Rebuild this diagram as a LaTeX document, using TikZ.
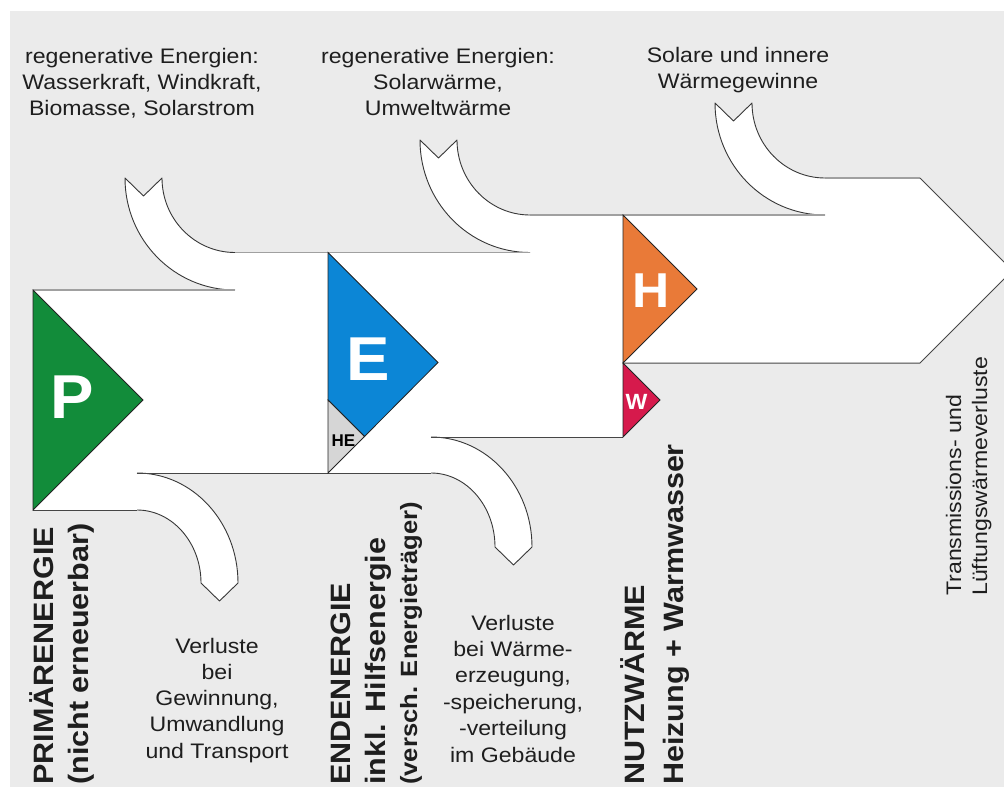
\documentclass[tikz,border=0pt]{standalone}
\usepackage{fontspec}
\setmainfont{Liberation Sans}
\definecolor{bg}{RGB}{235,235,235}
\definecolor{pgreen}{RGB}{18,140,58}
\definecolor{eblue}{RGB}{12,134,214}
\definecolor{hegray}{RGB}{214,214,214}
\definecolor{horange}{RGB}{233,122,56}
\definecolor{wred}{RGB}{214,26,76}
\definecolor{txt}{RGB}{30,30,30}
\definecolor{edgelight}{RGB}{160,160,160}
\definecolor{edgedark}{RGB}{70,70,70}
\definecolor{arrowedge}{RGB}{55,55,55}
\definecolor{triedge}{RGB}{35,35,35}
\begin{document}
\begin{tikzpicture}[x=1pt, y=-1pt,
  flowfill/.style={fill=white},
  arrowline/.style={draw=arrowedge, line width=0.9pt, line join=round},
  topedge/.style={draw=edgelight, line width=1.5pt},
  botedge/.style={draw=edgedark, line width=1pt},
  tri/.style={draw=triedge, line width=0.8pt, line join=miter},
  plain/.style={font=\fontsize{21}{26}\selectfont, text=txt, inner sep=0pt, xscale=1.1},
  hline/.style={plain, anchor=base},
  vplain/.style={rotate=90, plain, anchor=base west},
  vbold/.style={rotate=90, font=\fontsize{28}{30}\selectfont\bfseries, text=txt,
                inner sep=0pt, xscale=1.09, anchor=base west},
  letter/.style={font=\fontsize{#1}{#1}\selectfont\bfseries, text=white,
                 inner sep=0pt, xscale=1.05}
]
\useasboundingbox (0,0) rectangle (1004,787);
\clip (0,0) rectangle (1004,787);

% page and grey panel
\fill[white] (0,0) rectangle (1004,787);
\fill[bg] (10,11) rectangle (1004,787);

% main energy band
\path[flowfill] (33,290) -- (235,290) -- (235,252.5) -- (530,252.5) -- (530,215)
  -- (825,215) -- (825,178) -- (920,178) -- (1012.5,270.5) -- (920,363)
  -- (623,363) -- (623,437) -- (431,437) -- (431,473) -- (137,473)
  -- (137,510) -- (33,510) -- cycle;

% incoming gains (swallow-tail arrows entering from above)
\path[flowfill] (125,178) .. controls (125,239.9) and (174.2,290) .. (235,290)
  -- (235,252.5) .. controls (194.7,252.5) and (162,219.1) .. (162,178)
  -- (143.5,196) -- cycle;
\draw[arrowline] (235,290) .. controls (174.2,290) and (125,239.9) .. (125,178)
  -- (143.5,196) -- (162,178) .. controls (162,219.1) and (194.7,252.5) .. (235,252.5);

\path[flowfill] (420,140) .. controls (420,202.1) and (469.2,252.5) .. (530,252.5)
  -- (530,215) .. controls (489.7,215) and (457,181.4) .. (457,140)
  -- (438.5,158) -- cycle;
\draw[arrowline] (530,252.5) .. controls (469.2,252.5) and (420,202.1) .. (420,140)
  -- (438.5,158) -- (457,140) .. controls (457,181.4) and (489.7,215) .. (530,215);

\path[flowfill] (715,103) .. controls (715,164.9) and (764.2,215) .. (825,215)
  -- (825,178) .. controls (784.7,178) and (752,144.4) .. (752,103)
  -- (733.5,121) -- cycle;
\draw[arrowline] (825,215) .. controls (764.2,215) and (715,164.9) .. (715,103)
  -- (733.5,121) -- (752,103) .. controls (752,144.4) and (784.7,178) .. (825,178);

% outgoing losses (pointed arrows leaving downwards)
\path[flowfill] (137,473) .. controls (192.8,473) and (238,522.2) .. (238,583)
  -- (219.5,601) -- (201,583) .. controls (201,542.7) and (172.3,510) .. (137,510) -- cycle;
\draw[arrowline] (137,473) .. controls (192.8,473) and (238,522.2) .. (238,583)
  -- (219.5,601) -- (201,583) .. controls (201,542.7) and (172.3,510) .. (137,510);

\path[flowfill] (431,437) .. controls (486.8,437) and (532,486.2) .. (532,547)
  -- (513.5,565) -- (495,547) .. controls (495,506.1) and (466.3,473) .. (431,473) -- cycle;
\draw[arrowline] (431,437) .. controls (486.8,437) and (532,486.2) .. (532,547)
  -- (513.5,565) -- (495,547) .. controls (495,506.1) and (466.3,473) .. (431,473);

% band edges
\draw[topedge] (33,290) -- (235,290);
\draw[topedge] (235,252.5) -- (530,252.5);
\draw[topedge] (530,215) -- (825,215);
\draw[topedge] (825,178) -- (920,178);
\draw[botedge] (920,178) -- (1012.5,270.5) -- (920,363) -- (623,363);
\draw[botedge] (33,510) -- (137,510);
\draw[botedge] (137,473) -- (431,473);
\draw[botedge] (431,437) -- (623,437);

% stage markers
\filldraw[tri, fill=pgreen] (33,290) -- (143,400) -- (33,510) -- cycle;
\filldraw[tri, fill=eblue] (328,252.5) -- (438,362.5) -- (364.5,436.5) -- (328,400) -- cycle;
\filldraw[tri, fill=hegray] (328,400) -- (364.5,436.5) -- (328,473) -- cycle;
\filldraw[tri, fill=horange] (623,215) -- (697,289) -- (623,363) -- cycle;
\filldraw[tri, fill=wred] (623,363) -- (660,400) -- (623,437) -- cycle;

\node[letter=62] (pmark) at (72,397) {P};
\node[letter=62] (emark) at (368,359.5) {E};
\node[letter=49] (hmark) at (651.5,291) {H};
\node[letter=22] (wmark) at (636.5,401.5) {W};
\node[font=\fontsize{17}{17}\selectfont\bfseries, text=black, inner sep=0pt] (hemark) at (343.5,440.5) {HE};

% gains
\node[hline] (rga) at (142,63) {regenerative Energien:};
\node[hline] (rgb) at (142,89.3) {Wasserkraft, Windkraft,};
\node[hline] (rgc) at (142,115.6) {Biomasse, Solarstrom};
\node[hline] (rwa) at (438,63) {regenerative Energien:};
\node[hline] (rwb) at (438,89.3) {Solarwärme,};
\node[hline] (rwc) at (438,115.6) {Umweltwärme};
\node[hline] (sia) at (738,62) {Solare und innere};
\node[hline] (sib) at (738,88) {Wärmegewinne};

% losses
\node[hline] (vla) at (217,653) {Verluste};
\node[hline] (vlb) at (217,679.3) {bei};
\node[hline] (vlc) at (217,705.6) {Gewinnung,};
\node[hline] (vld) at (217,731.9) {Umwandlung};
\node[hline] (vle) at (217,758.2) {und Transport};
\node[hline] (vwa) at (513,630) {Verluste};
\node[hline] (vwb) at (513,656.4) {bei Wärme-};
\node[hline] (vwc) at (513,682.8) {erzeugung,};
\node[hline] (vwd) at (513,709.2) {-speicherung,};
\node[hline] (vwe) at (513,735.6) {-verteilung};
\node[hline] (vwf) at (513,762) {im Gebäude};

% stage titles
\node[vbold] (prima) at (53,785) {PRIMÄRENERGIE};
\node[vbold] (primb) at (88,785) {(nicht erneuerbar)};
\node[vbold] (enda) at (350,785) {ENDENERGIE};
\node[vbold] (endb) at (385,785) {inkl. Hilfsenergie};
\node[vbold, font=\fontsize{23.5}{26}\selectfont\bfseries] (endc) at (417,785) {(versch. Energieträger)};
\node[vbold] (nutza) at (644,785) {NUTZWÄRME};
\node[vbold] (nutzb) at (683,785) {Heizung + Warmwasser};
\node[vplain] (trla) at (961,596) {Transmissions- und};
\node[vplain] (trlb) at (987,596) {Lüftungswärmeverluste};
\end{tikzpicture}
\end{document}
